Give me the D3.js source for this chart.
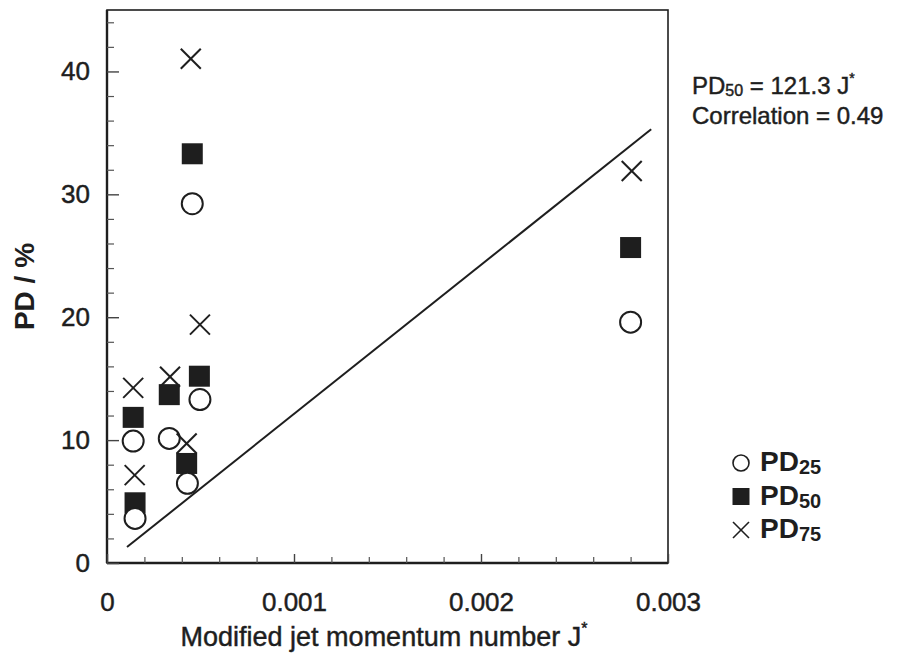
<!DOCTYPE html>
<html>
<head>
<meta charset="utf-8">
<script src="https://cdn.jsdelivr.net/npm/d3@7"></script>
<style>
  body { margin: 0; background: #fff; }
  svg { font-family: "Liberation Sans", Arial, sans-serif; }
</style>
</head>
<body>
<svg id="chart" width="908" height="658"></svg>
<script>
// data
const pd25X = [0.00015, 0.00014, 0.000333, 0.00043, 0.000456, 0.000497, 0.0028];
const pd25Y = [3.63, 9.92, 10.14, 6.48, 29.24, 13.3, 19.6];
const pd50X = [0.00015, 0.00014, 0.000333, 0.000426, 0.000456, 0.000494, 0.0028];
const pd50Y = [4.9, 11.85, 13.7, 8.1, 33.3, 15.2, 25.67];
const pd75X = [0.000148, 0.00014, 0.000337, 0.000426, 0.000448, 0.000497, 0.002806];
const pd75Y = [7.15, 14.25, 15.15, 9.73, 41.03, 19.4, 31.9];
const fitSlope = 121.3;          // PD50 = 121.3 J*  (PD as fraction)
const fitJ = [0.000107, 0.00291];
const xTicks = [0, 0.001, 0.002, 0.003];
const yTicks = [0, 10, 20, 30, 40];

const svg = d3.select("#chart");
const pL = 107, pR = 668, pT = 10, pB = 563;

const x = d3.scaleLinear().domain([0, 0.003]).range([pL, pR]);
const y = d3.scaleLinear().domain([0, 45]).range([pB, pT]);

const ink = "#1e1e1e";
const heavy = 0.45; // thin outline to make text look like the scanned Helvetica

// frame
svg.append("rect")
  .attr("x", pL).attr("y", pT)
  .attr("width", pR - pL).attr("height", pB - pT)
  .attr("fill", "none").attr("stroke", ink).attr("stroke-width", 1.6);
svg.append("line").attr("x1", pL).attr("x2", pL).attr("y1", pT).attr("y2", pB)
  .attr("stroke", ink).attr("stroke-width", 2.4);
svg.append("line").attr("x1", pL).attr("x2", pR).attr("y1", pB).attr("y2", pB)
  .attr("stroke", ink).attr("stroke-width", 2.4);

// minor ticks
const yMinor = d3.range(2, 45, 2).filter(v => v % 10 != 0);
const xMinor = d3.range(1, 15).map(i => i * 0.0002).filter(v => Math.abs(v * 1000 - Math.round(v * 1000)) > 1e-6);

svg.append("g").attr("transform", "translate(" + pL + ",0)")
  .call(d3.axisLeft(y).tickValues(yMinor).tickSize(-7).tickFormat(""))
  .call(g => g.select(".domain").remove())
  .selectAll("line").attr("stroke", "#555").attr("stroke-width", 1.2);

svg.append("g").attr("transform", "translate(0," + pB + ")")
  .call(d3.axisBottom(x).tickValues(xMinor).tickSize(-6).tickFormat(""))
  .call(g => g.select(".domain").remove())
  .selectAll("line").attr("stroke", "#555").attr("stroke-width", 1.2);

// major ticks + labels
const yAxis = svg.append("g").attr("transform", "translate(" + pL + ",0)")
  .call(d3.axisLeft(y).tickValues(yTicks).tickSize(-12).tickPadding(17))
  .call(g => g.select(".domain").remove());
yAxis.selectAll("line").attr("stroke", "#444").attr("stroke-width", 1.4);
yAxis.selectAll("text").attr("font-size", 26).attr("fill", ink)
  .attr("stroke", ink).attr("stroke-width", heavy)
  .attr("font-family", "Liberation Sans, Arial, sans-serif");

const xAxis = svg.append("g").attr("transform", "translate(0," + pB + ")")
  .call(d3.axisBottom(x).tickValues(xTicks).tickSize(-9).tickPadding(30)
    .tickFormat(d => d === 0 ? "0" : d3.format(".3f")(d)))
  .call(g => g.select(".domain").remove());
xAxis.selectAll("line").attr("stroke", "#444").attr("stroke-width", 1.4);
xAxis.selectAll("text").attr("font-size", 26).attr("fill", ink)
  .attr("stroke", ink).attr("stroke-width", heavy)
  .attr("font-family", "Liberation Sans, Arial, sans-serif");

// axis titles
svg.append("text")
  .attr("transform", "translate(34," + y(22.5) + ") rotate(-90)")
  .attr("text-anchor", "middle")
  .attr("font-size", 28).attr("font-weight", "bold").attr("fill", ink)
  .text("PD / %");

const xt = svg.append("text")
  .attr("x", 384).attr("y", 646)
  .attr("text-anchor", "middle")
  .attr("font-size", 27).attr("fill", ink)
  .attr("stroke", ink).attr("stroke-width", heavy);
xt.append("tspan").text("Modified jet momentum number J");
xt.append("tspan").attr("font-size", 16).attr("dy", -12).text("*");

// fit line
svg.append("line")
  .attr("x1", x(fitJ[0])).attr("y1", y(fitSlope * fitJ[0] * 100))
  .attr("x2", x(fitJ[1])).attr("y2", y(fitSlope * fitJ[1] * 100))
  .attr("stroke", ink).attr("stroke-width", 2);

// markers
const sq = 21, cr = 10.5, cx = 10;
function zip(a, b) { return a.map((v, i) => [v, b[i]]); }

svg.append("g").selectAll("rect").data(zip(pd50X, pd50Y)).enter().append("rect")
  .attr("x", d => x(d[0]) - sq / 2).attr("y", d => y(d[1]) - sq / 2)
  .attr("width", sq).attr("height", sq).attr("fill", ink);

svg.append("g").selectAll("circle").data(zip(pd25X, pd25Y)).enter().append("circle")
  .attr("cx", d => x(d[0])).attr("cy", d => y(d[1])).attr("r", cr)
  .attr("fill", "#fff").attr("stroke", ink).attr("stroke-width", 2);

const crosses = svg.append("g").attr("stroke", ink).attr("stroke-width", 2)
  .selectAll("g").data(zip(pd75X, pd75Y)).enter().append("g")
  .attr("transform", d => "translate(" + x(d[0]) + "," + y(d[1]) + ")");
crosses.append("line").attr("x1", -cx).attr("y1", -cx).attr("x2", cx).attr("y2", cx);
crosses.append("line").attr("x1", -cx).attr("y1", cx).attr("x2", cx).attr("y2", -cx);

// annotation
const a1 = svg.append("text").attr("x", 692).attr("y", 94).attr("font-size", 24).attr("fill", ink)
  .attr("stroke", ink).attr("stroke-width", heavy);
a1.append("tspan").text("PD");
a1.append("tspan").attr("font-size", 16).attr("dy", 2).text("50");
a1.append("tspan").attr("dy", -2).text(" =  121.3 J");
a1.append("tspan").attr("font-size", 14).attr("dy", -11).text("*");
svg.append("text").attr("x", 692).attr("y", 124).attr("font-size", 24).attr("fill", ink)
  .attr("stroke", ink).attr("stroke-width", heavy)
  .text("Correlation = 0.49");

// legend
const legend = [
  { name: "25", type: "circle" },
  { name: "50", type: "square" },
  { name: "75", type: "cross" }
];
const lg = svg.append("g").selectAll("g").data(legend).enter().append("g")
  .attr("transform", (d, i) => "translate(741," + (463 + i * 33.5) + ")");
lg.each(function(d) {
  const g = d3.select(this);
  if (d.type == "circle") {
    g.append("circle").attr("r", 8).attr("fill", "#fff").attr("stroke", ink).attr("stroke-width", 1.6);
  } else if (d.type == "square") {
    g.append("rect").attr("x", -8.5).attr("y", -8.5).attr("width", 17).attr("height", 17).attr("fill", ink);
  } else {
    g.append("line").attr("x1", -8).attr("y1", -8).attr("x2", 8).attr("y2", 8).attr("stroke", ink).attr("stroke-width", 1.6);
    g.append("line").attr("x1", -8).attr("y1", 8).attr("x2", 8).attr("y2", -8).attr("stroke", ink).attr("stroke-width", 1.6);
  }
  const t = g.append("text").attr("x", 19).attr("y", 8).attr("font-size", 28).attr("font-weight", "bold").attr("fill", ink);
  t.append("tspan").text("PD");
  t.append("tspan").attr("font-size", 20).attr("dy", 3).text(d.name);
});
</script>
</body>
</html>
